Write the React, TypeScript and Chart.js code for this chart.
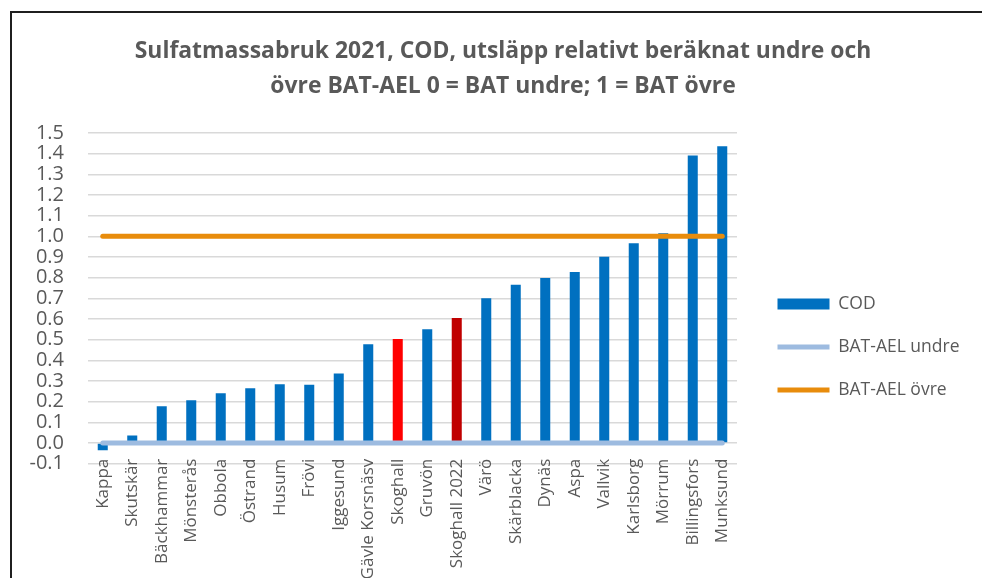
import React, { useEffect, useRef } from "react";
import { Chart, registerables } from "chart.js";

Chart.register(...registerables);

const CATEGORIES = [
  "Kappa", "Skutskär", "Bäckhammar", "Mönsterås", "Obbola", "Östrand", "Husum", "Frövi",
  "Iggesund", "Gävle Korsnäsv", "Skoghall", "Gruvön", "Skoghall 2022", "Värö", "Skärblacka",
  "Dynäs", "Aspa", "Vallvik", "Karlsborg", "Mörrum", "Billingsfors", "Munksund",
];
const COD = [
  -0.035, 0.037, 0.178, 0.207, 0.241, 0.265, 0.285, 0.282, 0.336, 0.478, 0.503,
  0.551, 0.605, 0.701, 0.766, 0.798, 0.827, 0.901, 0.966, 1.015, 1.391, 1.436,
];
const BAT_UNDRE = [0, 0, 0, 0, 0, 0, 0, 0, 0, 0, 0, 0, 0, 0, 0, 0, 0, 0, 0, 0, 0, 0];
const BAT_OVRE = [1, 1, 1, 1, 1, 1, 1, 1, 1, 1, 1, 1, 1, 1, 1, 1, 1, 1, 1, 1, 1, 1];
const Y_MIN = -0.1;
const Y_MAX = 1.5;
const Y_STEP = 0.1;
const TITLE_LINES = [
  "Sulfatmassabruk 2021, COD, utsläpp relativt beräknat undre och",
  "övre BAT-AEL 0 = BAT undre; 1 = BAT övre",
];

const BLUE = "#0070C0";
const HIGHLIGHT: Record<string, string> = { Skoghall: "#FF0000", "Skoghall 2022": "#C00000" };
const TEXT = "#595959";
const FONT = "'Open Sans'";

// small layout adjustments: legend gap from plot, title centre, x label offset
const layoutTweaks = {
  id: "layoutTweaks",
  afterLayout(chart: any, _args: any, opts: any) {
    const lg = chart.legend;
    if (lg) {
      const dx = chart.chartArea.right + opts.legendGap - lg.left;
      lg.left += dx;
      lg.right = chart.width;
      lg.top += opts.legendDy;
      lg.bottom += opts.legendDy;
    }
    const t = chart.titleBlock;
    if (t) {
      const dx = opts.titleCenter - (t.left + t.right) / 2;
      t.left += dx;
      t.right += dx;
    }
    const xs = chart.scales.x;
    if (xs) xs.top += opts.xLabelDy;
  },
};

export default function App() {
  const ref = useRef<HTMLCanvasElement>(null);
  useEffect(() => {
    if (!ref.current) return;
    const chart = new Chart(ref.current, {
      data: {
        labels: CATEGORIES,
        datasets: [
          {
            type: "bar",
            label: "COD",
            data: COD,
            backgroundColor: CATEGORIES.map((c) => HIGHLIGHT[c] || BLUE),
            borderWidth: 0,
            barPercentage: 0.34,
            categoryPercentage: 1,
            order: 2,
          },
          {
            type: "line",
            label: "BAT-AEL undre",
            data: BAT_UNDRE,
            borderColor: "#9DBBE0",
            backgroundColor: "#9DBBE0",
            borderWidth: 5,
            borderCapStyle: "round",
            pointRadius: 0,
            order: 1,
          },
          {
            type: "line",
            label: "BAT-AEL övre",
            data: BAT_OVRE,
            borderColor: "#E88C0C",
            backgroundColor: "#E88C0C",
            borderWidth: 5,
            borderCapStyle: "round",
            pointRadius: 0,
            order: 0,
          },
        ],
      } as any,
      plugins: [layoutTweaks],
      options: {
        responsive: false,
        animation: false,
        devicePixelRatio: 1,
        layout: { padding: { left: 24, right: 45, top: 0, bottom: 0 } },
        plugins: {
          tooltip: { enabled: false },
          layoutTweaks: { legendGap: 15, legendDy: 58, titleCenter: 503, xLabelDy: -5 },
          title: {
            display: true,
            text: TITLE_LINES,
            color: TEXT,
            font: { family: FONT, size: 22.9, weight: "bold", lineHeight: "35px" } as any,
            padding: { top: 34, bottom: 29 },
          },
          legend: {
            position: "right",
            maxWidth: 200,
            labels: {
              usePointStyle: true,
              pointStyleWidth: 52,
              boxHeight: 11,
              padding: 25.5,
              color: TEXT,
              font: { family: FONT, size: 17.5 },
              sort: (a: any, b: any) => a.datasetIndex - b.datasetIndex,
              generateLabels: (ch: any) => {
                const items = Chart.defaults.plugins.legend.labels.generateLabels(ch);
                return items.map((it: any) => ({
                  ...it,
                  pointStyle: it.datasetIndex === 0 ? "rect" : "line",
                  lineWidth: it.datasetIndex === 0 ? 0 : 5,
                }));
              },
            },
          },
        },
        scales: {
          x: {
            grid: { display: false, drawTicks: false },
            border: { display: false },
            ticks: {
              autoSkip: false,
              minRotation: 90,
              maxRotation: 90,
              padding: 0,
              color: TEXT,
              font: { family: FONT, size: 17 },
            },
            afterFit: (s: any) => {
              s.height = 114.3;
            },
          },
          y: {
            min: Y_MIN,
            max: Y_MAX,
            grid: { color: "#D9D9D9", lineWidth: 1.5, drawTicks: false },
            border: { display: false },
            ticks: {
              stepSize: Y_STEP,
              autoSkip: false,
              padding: 24,
              color: TEXT,
              font: { family: FONT, size: 20, lineHeight: 1 },
              callback: (v: any) => Number(v).toFixed(1),
            },
            afterFit: (s: any) => {
              s.width = 64;
            },
          },
        },
      } as any,
    });
    return () => chart.destroy();
  }, []);

  return (
    <div
      style={{
        position: "fixed",
        left: 0,
        top: 0,
        width: 982,
        height: 578,
        overflow: "hidden",
        background: "#fff",
      }}
    >
      <div
        style={{
          position: "absolute",
          left: 10,
          top: 11,
          width: 1100,
          height: 700,
          borderLeft: "2px solid #1f1f1f",
          borderTop: "2px solid #1f1f1f",
        }}
      />
      <canvas
        ref={ref}
        width={982}
        height={578}
        style={{ position: "absolute", left: 0, top: 0, width: 982, height: 578 }}
      />
    </div>
  );
}
